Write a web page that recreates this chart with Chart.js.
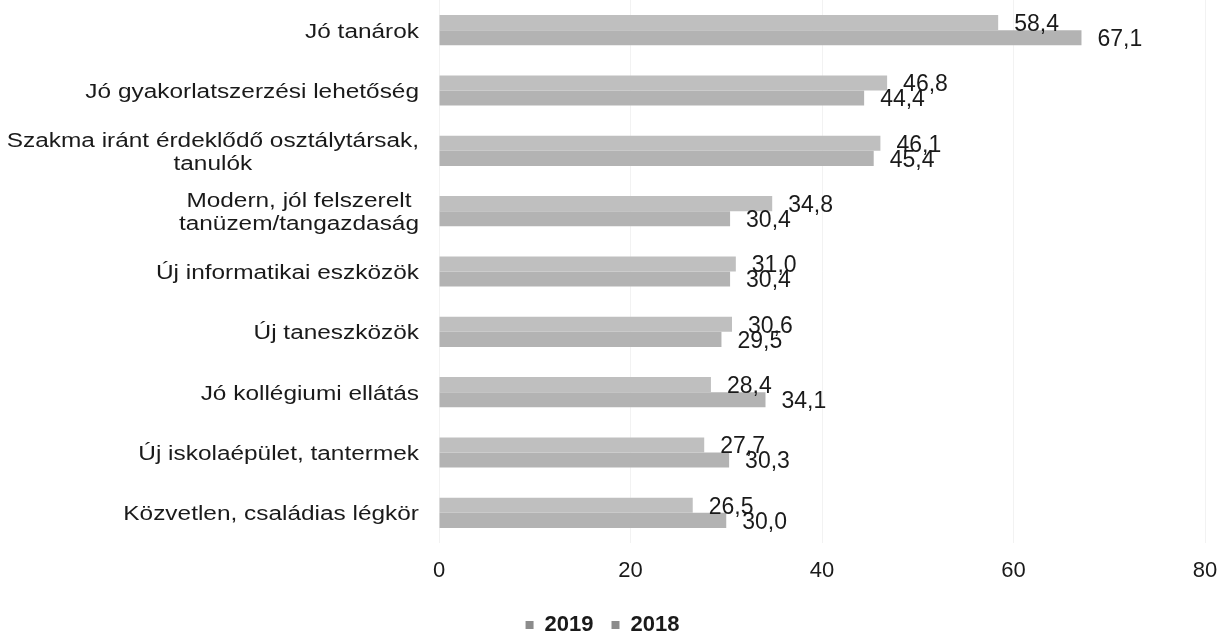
<!DOCTYPE html>
<html>
<head>
<meta charset="utf-8">
<script src="https://cdn.jsdelivr.net/npm/chart.js@4/dist/chart.umd.min.js"></script>
<style>
  html, body { margin: 0; padding: 0; background: #fff; }
  #wrap { width: 1221px; height: 634px; }
</style>
</head>
<body>
<div id="wrap"><canvas id="chart"></canvas></div>
<script>
const categories = [
    'Jó tanárok',
    'Jó gyakorlatszerzési lehetőség',
    ['Szakma iránt érdeklődő osztálytársak,', 'tanulók'],
    ['Modern, jól felszerelt', 'tanüzem/tangazdaság'],
    'Új informatikai eszközök',
    'Új taneszközök',
    'Jó kollégiumi ellátás',
    'Új iskolaépület, tantermek',
    'Közvetlen, családias légkör'
];
const values2019 = [58.4, 46.8, 46.1, 34.8, 31.0, 30.6, 28.4, 27.7, 26.5];
const values2018 = [67.1, 44.4, 45.4, 30.4, 30.4, 29.5, 34.1, 30.3, 30.0];
const xTicks = [0, 20, 40, 60, 80];

const FONT = '"Liberation Sans", Arial, sans-serif';

// category names are a bit wider than plain Arial in the original, so draw them stretched
const categoryLabels = {
    id: 'categoryLabels',
    afterDraw: function(chart) {
        const ctx = chart.ctx;
        const yScale = chart.scales.y;
        const right = chart.chartArea.left - 20;
        const sx = 1.22;
        const lineH = 23;
        ctx.save();
        ctx.font = '20px ' + FONT;
        ctx.fillStyle = '#1a1a1a';
        ctx.textAlign = 'center';
        ctx.textBaseline = 'middle';
        categories.forEach(function(lab, i) {
            const lines = Array.isArray(lab) ? lab : [lab];
            const blockW = Math.max.apply(null, lines.map(function(l) { return ctx.measureText(l).width * sx; }));
            const cx = right - blockW / 2;
            const cy = yScale.getPixelForValue(i) + 2;
            lines.forEach(function(l, k) {
                const y = cy + (k - (lines.length - 1) / 2) * lineH;
                ctx.save();
                ctx.translate(cx, y);
                ctx.scale(sx, 1);
                ctx.fillText(l, 0, 0);
                ctx.restore();
            });
        });
        ctx.restore();
    }
};

const barLabels = {
    id: 'barLabels',
    afterDatasetsDraw: function(chart) {
        const ctx = chart.ctx;
        ctx.save();
        ctx.font = '23px ' + FONT;
        ctx.fillStyle = '#1a1a1a';
        ctx.textAlign = 'left';
        ctx.textBaseline = 'middle';
        chart.data.datasets.forEach(function(ds, i) {
            chart.getDatasetMeta(i).data.forEach(function(bar, j) {
                const txt = ds.data[j].toFixed(1).replace('.', ',');
                ctx.fillText(txt, bar.x + 16, bar.y + 2);
            });
        });
        ctx.restore();
    }
};

new Chart(document.getElementById('chart').getContext('2d'), {
    type: 'bar',
    data: {
        labels: categories,
        datasets: [
            { label: '2019', data: values2019, backgroundColor: '#bfbfbf' },
            { label: '2018', data: values2018, backgroundColor: '#b3b3b3' }
        ]
    },
    options: {
        indexAxis: 'y',
        responsive: true,
        maintainAspectRatio: false,
        animation: false,
        layout: { padding: { top: 0, right: 16, bottom: -12, left: 0 } },
        datasets: { bar: { categoryPercentage: 0.5, barPercentage: 1 } },
        scales: {
            x: {
                min: 0,
                max: 80,
                afterBuildTicks: function(scale) {
                    scale.ticks = xTicks.map(function(v) { return { value: v }; });
                },
                afterFit: function(scale) {
                    scale.height = 53;
                    scale.paddingLeft = 0;
                    scale.paddingRight = 0;
                },
                grid: { color: 'rgba(0,0,0,0.05)', drawTicks: false },
                border: { display: false },
                ticks: {
                    padding: 15,
                    color: '#1a1a1a',
                    font: { family: FONT, size: 22 }
                }
            },
            y: {
                grid: { display: false },
                border: { display: false },
                afterFit: function(scale) {
                    scale.width = 439;
                    scale.paddingTop = 0;
                    scale.paddingBottom = 0;
                },
                ticks: { display: false }
            }
        },
        plugins: {
            legend: {
                position: 'bottom',
                labels: {
                    boxWidth: 8,
                    boxHeight: 8,
                    padding: 18,
                    color: '#1a1a1a',
                    font: { family: FONT, size: 22, weight: 'bold' },
                    generateLabels: function(chart) {
                        return Chart.defaults.plugins.legend.labels.generateLabels(chart).map(function(l) {
                            l.fillStyle = '#8c8c8c';
                            l.strokeStyle = '#8c8c8c';
                            return l;
                        });
                    }
                }
            },
            tooltip: { enabled: false }
        }
    },
    plugins: [categoryLabels, barLabels]
});
</script>
</body>
</html>
